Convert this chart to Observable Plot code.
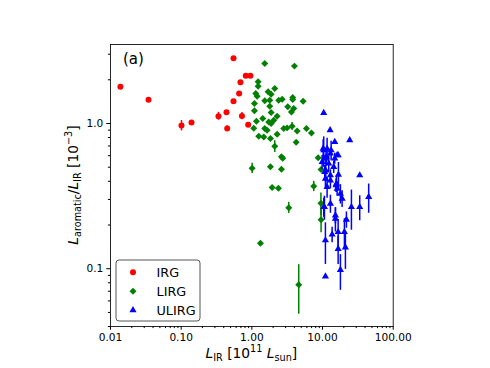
<!DOCTYPE html>
<html><head><meta charset="utf-8">
<script src="https://cdn.jsdelivr.net/npm/d3@7"></script>
<script src="https://cdn.jsdelivr.net/npm/@observablehq/plot@0.6"></script>
<style>
html,body{margin:0;padding:0;background:#fff}
svg{font-family:"DejaVu Sans",sans-serif}
</style>
</head><body><div id="chart"></div>
<script>
// ---- data ----
const irgX = [0.0138,0.0345,0.101,0.140,0.337,0.438,0.448,0.550,0.661,0.690,0.550,0.724,0.82,0.955,0.887];
const irgY = [1.788,1.455,0.969,1.016,1.123,1.197,0.924,1.425,1.61,1.927,2.81,1.128,2.13,2.13,0.981];
const irgE = [0,0,0.08,0.03,0.07,0,0.04,0,0,0,0,0.065,0,0,0.03];

const lirgX = [1.522,4.006,1.227,1.227,1.135,1.188,1.701,1.875,2.109,1.522,1.791,2.40,2.685,3.787,3.787,5.32,1.089,1.791,1.089,3.22,3.915,3.63,1.875,1.426,1.161,2.042,1.734,1.875,1.064,1.522,1.645,2.826,3.155,3.715,4.374,5.92,6.97,1.253,1.473,1.832,2.279,4.236,2.109,2.624,2.736,1.01,1.832,2.624,8.67,9.54,1.936,2.377,7.51,3.325,9.49,9.54,1.324,4.606,2.279];
const lirgY = [2.593,2.484,1.936,1.808,1.61,1.543,1.652,1.592,1.743,1.432,1.448,1.448,1.471,1.511,1.464,1.425,1.374,1.316,1.222,1.302,1.269,1.202,1.191,1.083,1.037,1.054,1.026,1.0,0.928,0.924,0.899,0.924,0.933,0.958,0.889,0.924,0.861,0.818,0.808,0.788,0.844,0.743,0.697,0.590,0.576,0.492,0.504,0.484,0.581,0.482,0.362,0.358,0.3695,0.2634,0.282,0.217,0.150,0.0776,1.123];
const lirgE = [0,0,0,0,0,0,0,0,0,0,0,0,0,0,0,0,0,0,0,0,0,0,0,0,0,0,0,0,0,0,0,0,0,0.06,0,0,0,0,0,0,0,0,0.065,0,0,0.04,0,0,0,0,0,0,0.03,0.023,0.05,0.04,0,0.029,0];

const ulirgX = [10.4,12.8,14.89,24.26,10.4,11.61,13.23,16.63,14.89,11.24,9.87,12.24,14.39,11.1,16.79,33.6,10.99,12.93,15.56,16.09,17.91,44.98,25.64,33.6,21.78,10.4,10.99,13.67,16.63,20.4,16.63,21.08,17.91,10.99,15.22,10.74,12.93,15.73,11.61,10.64,12.93,15.22,18.93,10.2,12.93,16.09,10.64];
const ulirgY = [1.183,0.899,0.747,0.767,0.654,0.672,0.654,0.605,0.574,0.588,0.543,0.530,0.502,0.476,0.445,0.440,0.4175,0.406,0.3754,0.356,0.329,0.312,0.266,0.266,0.218,0.266,0.157,0.172,0.179,0.179,0.137,0.140,0.098,0.0885,0.221,0.464,0.440,0.3856,0.3654,0.266,0.2807,0.233,0.304,0.672,0.621,0.605,0.574];
const ulirgE = [0,0,0,0,0.155,0.12,0.10,0,0.05,0.08,0.06,0.07,0.05,0.08,0.094,0,0.06,0.05,0.04,0.04,0.05,0.071,0.082,0.052,0.028,0.04,0.05,0.021,0.039,0.042,0.03,0.041,0.027,0,0.042,0.05,0.04,0.05,0.06,0.05,0.04,0.03,0.04,0.1,0,0,0];

const seriesNames = ["IRG","LIRG","ULIRG"];
const seriesColors = ["#ff0000","#008000","#0000ff"];
const seriesSymbols = ["circle","diamond2","triangle"];
const seriesR = [3.0,3.15,2.65];

const xTicks = [0.01,0.1,1,10,100];
const yTicks = [0.1,1];
const xMinor = [0.02,0.03,0.04,0.05,0.06,0.07,0.08,0.09,0.2,0.3,0.4,0.5,0.6,0.7,0.8,0.9,2,3,4,5,6,7,8,9,20,30,40,50,60,70,80,90];
const yMinor = [0.04,0.05,0.06,0.07,0.08,0.09,0.2,0.3,0.4,0.5,0.6,0.7,0.8,0.9,2,3];
const panelLabel = "(a)";
const xLabelParts = [{t:"L",it:1},{t:"IR",sub:1},{t:" [10"},{t:"11",sup:1},{t:" "},{t:"L",it:1},{t:"sun",sub:1},{t:"]"}];
const yLabelParts = [{t:"L",it:1},{t:"aromatic",sub:1},{t:"/"},{t:"L",it:1},{t:"IR",sub:1},{t:" [10"},{t:"\u22123",sup:1},{t:"]"}];

// ---- build ----
function rows(i, xs, ys, es){ return xs.map((x,k)=>({s:seriesNames[i], x, y:ys[k], e:es[k]})); }
const series = [rows(0,irgX,irgY,irgE), rows(1,lirgX,lirgY,lirgE), rows(2,ulirgX,ulirgY,ulirgE)];

const W=490,H=368, ML=110, MR=97.3, MT=44, MB=42;
const marks = [
  Plot.axisX(xMinor,{tickSize:2.1, tickFormat:()=>"", label:null}),
  Plot.axisY(yMinor,{tickSize:2.1, tickFormat:()=>"", label:null}),
  Plot.axisX(xTicks,{tickSize:3.7, tickPadding:3.5, tickFormat:d3.format(".2f"), label:null, fontSize:10.6}),
  Plot.axisY(yTicks,{tickSize:3.7, tickPadding:3.5, tickFormat:d3.format(".1f"), label:null, fontSize:10.6}),
];
series.forEach((d,i)=>{
  marks.push(Plot.ruleX(d.filter(r=>r.e>0),{x:"x", y1:r=>r.y-r.e, y2:r=>r.y+r.e, stroke:seriesColors[i], strokeWidth:1.5}));
  marks.push(Plot.dot(d,{x:"x", y:"y", symbol:()=>seriesSymbols[i], fill:seriesColors[i], r:seriesR[i], stroke:"none"}));
});
marks.push(Plot.frame({stroke:"black", strokeWidth:0.85}));
marks.push(Plot.text([panelLabel],{text:d=>d, frameAnchor:"top-left", textAnchor:"start", lineAnchor:"top", dx:12.5, dy:9, fontSize:15}));

const chart = Plot.plot({
  width:W, height:H, marginLeft:ML, marginRight:MR, marginTop:MT, marginBottom:MB,
  x:{type:"log", domain:[0.01,100], label:null},
  y:{type:"log", domain:[0.04,3.5], label:null},
  symbol:{type:"identity"},
  style:{fontFamily:"DejaVu Sans", fontSize:"10.6px", color:"black", background:"white"},
  marks
});
document.getElementById("chart").appendChild(chart);

const svg = d3.select(chart);
function mathText(g, parts, size){
  const t = g.append("text").attr("font-size", size).attr("fill","black").attr("text-anchor","middle");
  let off = 0;
  parts.forEach(p=>{
    let target = p.sub ? 0.25*size : p.sup ? -0.42*size : 0;
    const sp = t.append("tspan").text(p.t).attr("dy", target-off);
    off = target;
    if (p.sub || p.sup) sp.attr("font-size", size*0.7);
    if (p.it) sp.attr("font-style","italic");
  });
  return t;
}
const cx = (ML + (W-MR))/2, cy = (MT + (H-MB))/2;
mathText(svg.append("g").attr("transform",`translate(${cx},357.5)`), xLabelParts, 13.8);
mathText(svg.append("g").attr("transform",`translate(78,${cy}) rotate(-90)`), yLabelParts, 13.8);

// legend
const shapes = {circle:d3.symbolCircle, diamond2:d3.symbolDiamond2, triangle:d3.symbolTriangle};
const lg = svg.append("g");
lg.append("rect").attr("x",116).attr("y",260).attr("width",84).attr("height",61).attr("rx",3)
  .attr("fill","white").attr("fill-opacity",0.8).attr("stroke","#555").attr("stroke-width",1);
seriesNames.forEach((n,i)=>{
  const yy = 272.3 + i*18.9;
  lg.append("path").attr("d", d3.symbol(shapes[seriesSymbols[i]], Math.PI*seriesR[i]*seriesR[i])())
    .attr("transform",`translate(133,${yy})`).attr("fill",seriesColors[i]);
  lg.append("text").attr("x",156.5).attr("y",yy).attr("dy","0.36em").attr("text-anchor","start")
    .attr("font-size",12.8).attr("fill","black").text(n);
});
</script>
</body></html>
